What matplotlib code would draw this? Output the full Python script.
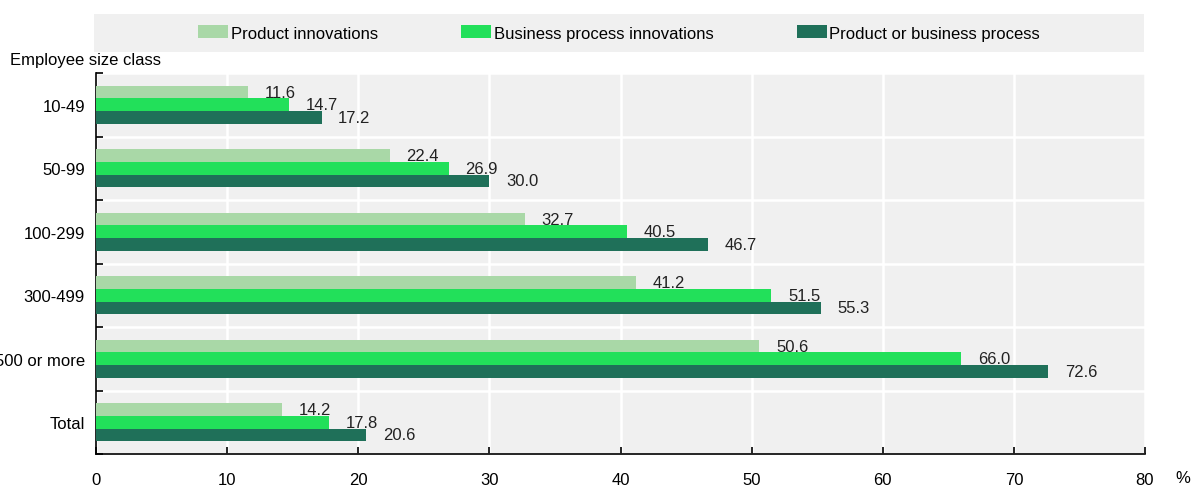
import numpy as np
import matplotlib.pyplot as plt
from matplotlib.patches import Patch

plt.rcParams['font.family'] = ['Liberation Sans', 'DejaVu Sans']

categories = ['10-49', '50-99', '100-299', '300-499', '500 or more', 'Total']
product = [11.6, 22.4, 32.7, 41.2, 50.6, 14.2]
business = [14.7, 26.9, 40.5, 51.5, 66.0, 17.8]
either = [17.2, 30.0, 46.7, 55.3, 72.6, 20.6]
series_names = ['Product innovations', 'Business process innovations',
                'Product or business process']
colors = ['#A9D8A7', '#22E05A', '#1F7059']

fig = plt.figure(figsize=(11.92, 4.89), dpi=100)
W, H = 1192, 489
ax = fig.add_axes([96 / W, 1 - 455 / H, (1145 - 96) / W, (455 - 74) / H])
ax.set_facecolor('#F0F0F0')

y = np.arange(len(categories))
h = 0.2
for k, (vals, col) in enumerate(zip([product, business, either], colors)):
    pos = y + (k - 1) * h
    ax.barh(pos, vals, height=h, color=col, zorder=3)
    for p, v in zip(pos, vals):
        ax.annotate(f'{v:.1f}', (v, p), xytext=(12, 0), textcoords='offset points',
                    va='center', ha='left', fontsize=12, color='#222222', zorder=4)

ax.set_xlim(0, 80)
ax.set_ylim(len(categories) - 0.5, -0.5)
ax.set_xticks(np.arange(0, 81, 10))
ax.set_yticks(np.arange(-0.5, len(categories), 1.0))
ax.set_yticklabels([])
ax.set_yticks(y, minor=True)
ax.set_yticklabels(categories, minor=True, fontsize=12)
ax.tick_params(axis='y', which='minor', length=0, pad=8)
ax.tick_params(axis='y', which='major', direction='in', length=5, width=1.2)
ax.tick_params(axis='x', direction='in', length=5, width=1.2, labelsize=12, pad=13)
ax.grid(True, which='major', color='white', linewidth=1.8, zorder=0)
ax.set_axisbelow(True)
for s in ['top', 'right']:
    ax.spines[s].set_visible(False)
for s in ['left', 'bottom']:
    ax.spines[s].set_linewidth(1.2)
    ax.spines[s].set_color('black')

fig.text(10 / W, 1 - 61 / H, 'Employee size class', fontsize=12, va='center', ha='left')
fig.text(1175 / W, 1 - 479 / H, '%', fontsize=12, va='center', ha='left')

# legend strip
lax = fig.add_axes([94 / W, 1 - 53 / H, (1144 - 94) / W, 38 / H])
lax.set_facecolor('#F0F0F0')
lax.set_xticks([])
lax.set_yticks([])
for s in lax.spines.values():
    s.set_visible(False)
handles = [Patch(facecolor=c, edgecolor='none') for c in colors]
lax.legend(handles, series_names, loc='center', ncol=3, frameon=False, fontsize=12,
           handlelength=1.8, handleheight=0.8, handletextpad=0.15, columnspacing=5.0)

fig.savefig('out.png', dpi=100)
